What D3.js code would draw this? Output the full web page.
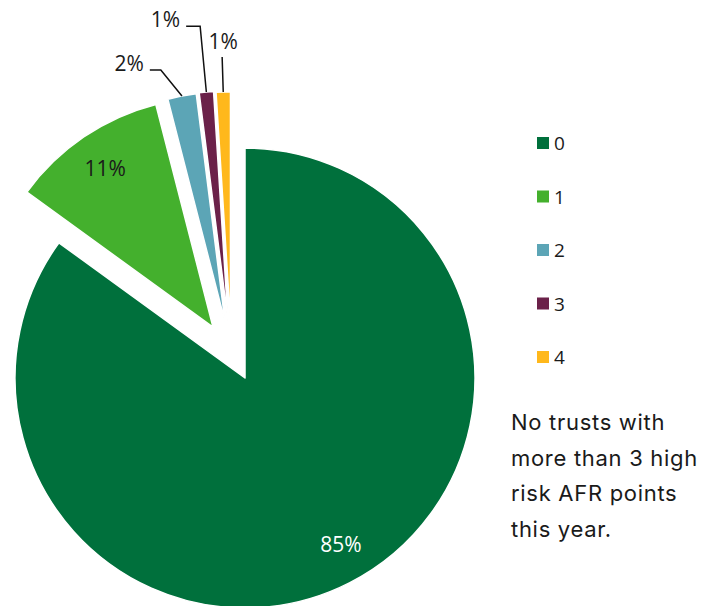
<!DOCTYPE html>
<html>
<head>
<meta charset="utf-8">
<script src="https://cdn.jsdelivr.net/npm/d3@7"></script>
<style>
  body { margin: 0; background: #fff; }
  svg { display: block; }
</style>
</head>
<body>
<svg></svg>
<script>
// values
const categories = ["0", "1", "2", "3", "4"];
const shares = [85, 11, 2, 1, 1];
const colours = ["#00703c", "#44b02d", "#5ca5b6", "#6b2149", "#ffb81c"];
const noteLines = ["No trusts with", "more than 3 high", "risk AFR points", "this year."];

// slice styling: explosion distance + tilt of explosion direction (deg) vs bisector
const explodeDist = [0, 60, 59.5, 59.5, 58];
const explodeTilt = [0, 2, -8.8, -11.2, -12.7];
// inside labels (radius, angle shift) / outside labels (elbow radius, angle shift, run)
const insideLabel = { 0: { r: 192, da: -3 }, 1: { r: 192, da: 0 } };
const outsideLabel = { 2: { r: 260, da: -3.5, run: 11 }, 3: { r: 296, da: 0, run: 14 }, 4: { r: 265, da: 0, run: 0 } };

let width = 703;
let height = 606;
let cx = 245, cy = 378, radius = 230;

let svg = d3.select("svg")
    .attr("width", width)
    .attr("height", height);

let pie = d3.pie().sort(null).value(d => d);
let arcs = pie(shares);
let arc = d3.arc().innerRadius(0).outerRadius(radius);

const rad = deg => deg * Math.PI / 180;
const polar = (r, a) => [r * Math.sin(a), -r * Math.cos(a)];

arcs.forEach((d, i) => {
    let mid = (d.startAngle + d.endAngle) / 2;
    let off = polar(explodeDist[i], mid + rad(explodeTilt[i]));
    d.tip = [cx + off[0], cy + off[1]];
    d.mid = mid;
});

let slices = svg.append("g").attr("class", "slices");

slices.selectAll("path")
    .data(arcs)
    .enter()
    .append("path")
    .attr("transform", d => `translate(${d.tip[0]},${d.tip[1]})`)
    .attr("d", arc)
    .attr("fill", (d, i) => colours[i])
    .attr("stroke", "#fff")
    .attr("stroke-width", 1.5)
    .attr("stroke-linejoin", "round");

const fmt = v => Math.round(v) + "%";

// labels inside the big slices
Object.keys(insideLabel).forEach(k => {
    let i = +k;
    let d = arcs[i];
    let p = polar(insideLabel[k].r, d.mid + rad(insideLabel[k].da));
    svg.append("text")
        .attr("x", d.tip[0] + p[0])
        .attr("y", d.tip[1] + p[1])
        .attr("text-anchor", "middle")
        .attr("dominant-baseline", "central")
        .attr("font-family", "'Open Sans', sans-serif")
        .attr("font-size", 21)
        .attr("fill", i === 0 ? "#ffffff" : "#1a1a1a")
        .text(fmt(shares[i]));
});

// callout labels for the thin slices
Object.keys(outsideLabel).forEach(k => {
    let i = +k;
    let d = arcs[i];
    let o = outsideLabel[k];
    let s = polar(radius, d.mid);
    let e = polar(o.r, d.mid + rad(o.da));
    let start = [d.tip[0] + s[0], d.tip[1] + s[1]];
    let elbow = [d.tip[0] + e[0], d.tip[1] + e[1]];
    let end = [elbow[0] - o.run, elbow[1]];

    svg.append("path")
        .attr("d", d3.line()([start, elbow, end]))
        .attr("fill", "none")
        .attr("stroke", "#111")
        .attr("stroke-width", 1.5);

    let t = svg.append("text")
        .attr("font-family", "'Open Sans', sans-serif")
        .attr("font-size", 21)
        .attr("fill", "#1a1a1a")
        .text(fmt(shares[i]));

    if (o.run > 0) {
        t.attr("x", end[0] - 6).attr("y", end[1] + 1).attr("text-anchor", "end");
    } else {
        t.attr("x", end[0] + 1).attr("y", end[1] - 8).attr("text-anchor", "middle");
    }
});

// legend
let legendY = d3.scalePoint()
    .domain(categories)
    .range([143, 357]);

let legend = svg.append("g")
    .attr("class", "legend")
    .attr("transform", "translate(537, 0)");

legend.selectAll("rect")
    .data(categories)
    .enter()
    .append("rect")
    .attr("x", 0)
    .attr("y", d => legendY(d) - 6)
    .attr("width", 12)
    .attr("height", 12)
    .attr("fill", (d, i) => colours[i]);

legend.selectAll("text")
    .data(categories)
    .enter()
    .append("text")
    .attr("x", 17)
    .attr("y", d => legendY(d))
    .attr("dominant-baseline", "central")
    .attr("font-family", "'Open Sans', sans-serif")
    .attr("font-size", 19)
    .attr("fill", "#1a1a1a")
    .text(d => d);

// note
svg.append("g")
    .attr("class", "note")
    .selectAll("text")
    .data(noteLines)
    .enter()
    .append("text")
    .attr("x", 511)
    .attr("y", (d, i) => 430 + i * 35.6)
    .attr("font-family", "Inter, sans-serif")
    .attr("font-size", 22)
    .attr("letter-spacing", 0.7)
    .attr("fill", "#1a1a1a")
    .text(d => d);
</script>
</body>
</html>
